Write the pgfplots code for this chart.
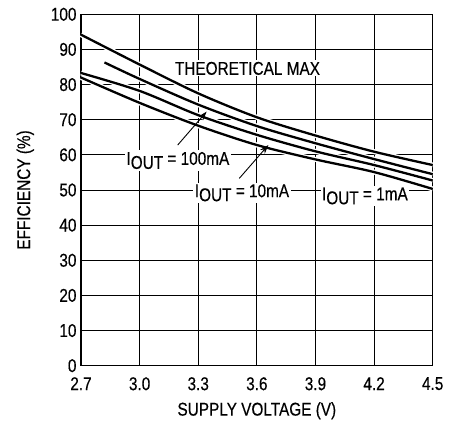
\documentclass[border=0pt]{standalone}
\usepackage{fontspec}
\setmainfont{Liberation Sans}[FakeStretch=0.83,FakeBold=0.3]
\usepackage{pgfplots}
\pgfplotsset{compat=1.18}
\usetikzlibrary{arrows.meta,calc}
\newcommand{\iout}{I\raisebox{-4pt}{OUT}}
\newcommand{\fs}{\fontsize{18.5}{18.5}\selectfont}
\begin{document}
\begin{tikzpicture}
\begin{axis}[
  scale only axis, width=351.7pt, height=351.4pt,
  xmin=2.7, xmax=4.5, ymin=0, ymax=100,
  xtick={2.7,3.0,3.3,3.6,3.9,4.2,4.5},
  xticklabels={2.7,3.0,3.3,3.6,3.9,4.2,4.5},
  ytick={0,10,20,30,40,50,60,70,80,90,100},
  grid=major,
  major grid style={black, line width=0.8pt},
  axis line style={line width=1.4pt},
  major tick length=0pt,
  /pgf/number format/assume math mode=true,
  tick label style={font=\fs},
  xticklabel style={yshift=-8pt},
  yticklabel style={xshift=-1pt},
  label style={font=\fs},
  xlabel={SUPPLY VOLTAGE (V)},
  ylabel={EFFICIENCY (\%)},
  xlabel style={yshift=-5pt},
  ylabel shift=10pt,
  clip=false,
]
% white halos
\addplot[white, line width=5pt, smooth] coordinates {(2.7,94.2)(3.0,85.7)(3.3,77.5)(3.6,70.7)(3.9,65.5)(4.2,60.9)(4.5,57.1)};
\addplot[white, line width=5pt, smooth] coordinates {(2.82,86.3)(3.0,81.6)(3.3,74.3)(3.6,68.2)(3.9,63.3)(4.2,58.8)(4.5,54.5)};
\addplot[white, line width=5pt, smooth] coordinates {(2.7,83.3)(3.0,78.2)(3.3,71.3)(3.6,65.7)(3.9,61.0)(4.2,57.1)(4.5,52.7)};
\addplot[white, line width=5pt, smooth] coordinates {(2.7,82.0)(3.0,74.8)(3.3,68.3)(3.6,62.8)(3.9,58.7)(4.2,55.1)(4.5,50.3)};
% curves
\addplot[black, line width=2.3pt, smooth] coordinates {(2.7,94.2)(3.0,85.7)(3.3,77.5)(3.6,70.7)(3.9,65.5)(4.2,60.9)(4.5,57.1)};
\addplot[black, line width=2.3pt, smooth] coordinates {(2.82,86.3)(3.0,81.6)(3.3,74.3)(3.6,68.2)(3.9,63.3)(4.2,58.8)(4.5,54.5)};
\addplot[black, line width=2.3pt, smooth] coordinates {(2.7,83.3)(3.0,78.2)(3.3,71.3)(3.6,65.7)(3.9,61.0)(4.2,57.1)(4.5,52.7)};
\addplot[black, line width=2.3pt, smooth] coordinates {(2.7,82.0)(3.0,74.8)(3.3,68.3)(3.6,62.8)(3.9,58.7)(4.2,55.1)(4.5,50.3)};
% labels
\node[fill=white, inner sep=1.5pt, font=\fs] at (axis cs:3.552,84.6) {THEORETICAL MAX};
\node[fill=white, inner sep=1.5pt, font=\fs] at (axis cs:3.196,58.4) {\iout{} = 100mA};
\node[fill=white, inner sep=1.5pt, font=\fs] at (axis cs:3.524,49.2) {\iout{} = 10mA};
\node[fill=white, inner sep=1.5pt, font=\fs] at (axis cs:4.153,48.3) {\iout{} = 1mA};
\draw[-{Stealth[length=9pt,width=6pt]}, line width=0.9pt] (axis cs:3.195,62.8) -- (axis cs:3.343,72.3);
\draw[-{Stealth[length=9pt,width=6pt]}, line width=0.9pt] (axis cs:3.510,53.3) -- (axis cs:3.659,62.8);
\end{axis}
\path ($(current axis.south west)+(-81pt,-59.3pt)$) rectangle ($(current axis.north east)+(28.3pt,14.3pt)$);
\end{tikzpicture}
\end{document}
